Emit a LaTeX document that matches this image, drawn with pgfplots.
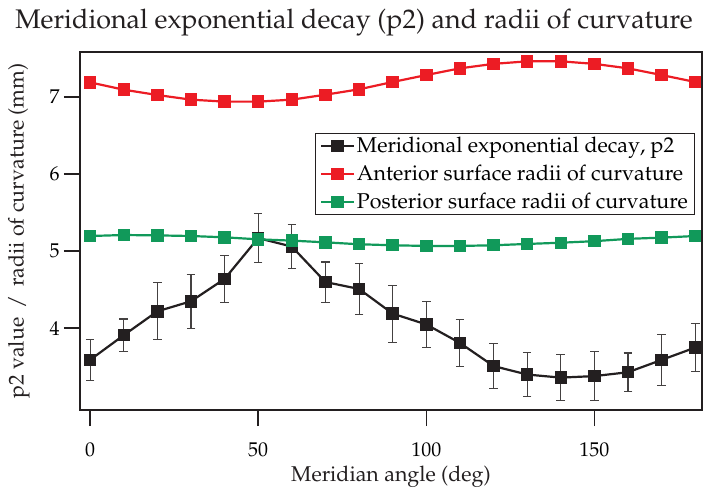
\documentclass[border=0pt]{standalone}
\usepackage[T1]{fontenc}
\usepackage{mathpazo}
\usepackage{pgfplots}
\pgfplotsset{compat=1.18}

\definecolor{antred}{HTML}{EC1C24}
\definecolor{postgreen}{HTML}{11995A}
\definecolor{pblack}{HTML}{231F20}

% angle, p2, error
\pgfplotstableread{
x y e
0 3.59 0.27
10 3.91 0.21
20 4.22 0.37
30 4.35 0.35
40 4.64 0.31
50 5.17 0.32
60 5.06 0.29
70 4.60 0.26
80 4.51 0.33
90 4.19 0.37
100 4.05 0.30
110 3.81 0.30
120 3.51 0.29
130 3.40 0.29
140 3.36 0.30
150 3.38 0.32
160 3.43 0.25
170 3.59 0.33
180 3.75 0.31
}\ptwo

\pgfplotstableread{
x y
0 7.19
10 7.095
20 7.026
30 6.966
40 6.94
50 6.94
60 6.966
70 7.03
80 7.10
90 7.195
100 7.285
110 7.372
120 7.43
130 7.463
140 7.463
150 7.43
160 7.372
170 7.285
180 7.195
}\anterior

\pgfplotstableread{
x y
0 5.197
10 5.21
20 5.205
30 5.197
40 5.18
50 5.154
60 5.137
70 5.115
80 5.09
90 5.077
100 5.068
110 5.068
120 5.077
130 5.094
140 5.11
150 5.13
160 5.16
170 5.176
180 5.197
}\posterior

\begin{document}
\begin{tikzpicture}
\begin{axis}[
  scale only axis,
  width=622bp, height=358bp,
  xmin=-3, xmax=182,
  ymin=2.94, ymax=7.584,
  xtick={0,50,100,150},
  ytick={4,5,6,7},
  axis line style={line width=1.6bp, pblack},
  tick style={line width=1.6bp, pblack},
  tick align=outside,
  tickpos=left,
  major tick length=16bp,
  xticklabel style={font=\fontsize{20}{22}\selectfont, yshift=-13bp},
  yticklabel style={font=\fontsize{20}{22}\selectfont, xshift=-1bp},
  xlabel={Meridian angle (deg)},
  ylabel={p2 value \,/\, radii of curvature (mm)},
  label style={font=\fontsize{21.5}{24}\selectfont, text=pblack},
  xlabel style={yshift=-2bp},
  ylabel style={yshift=13bp},
  title={Meridional exponential decay (p2) and radii of curvature},
  title style={font=\fontsize{27}{30}\selectfont, text=pblack, yshift=6bp, xshift=-37bp},
  legend style={at={(0.989,0.774)}, anchor=north east,
    font=\fontsize{21.5}{24}\selectfont, draw=pblack, line width=0.8bp,
    row sep=7bp, inner xsep=5bp, inner ysep=2bp},
  legend cell align=left,
  legend image code/.code={
    \draw[#1, line width=2.2bp] (0cm,0cm) -- (1.15cm,0cm);
    \draw[#1, mark repeat=2, mark phase=2] plot coordinates {(0cm,0cm) (0.575cm,0cm) (1.15cm,0cm)};
  },
  every axis plot/.append style={line width=2.2bp, mark=square*, mark size=5.1bp},
]
\addplot[color=pblack, mark options={fill=pblack},
  error bars/.cd, y dir=both, y explicit,
  error bar style={line width=1.1bp, color=pblack!85},
  error mark options={rotate=90, mark size=4.3bp, line width=1.1bp, color=pblack!85}]
  table[x=x, y=y, y error=e] {\ptwo};
\addplot[color=antred, mark options={fill=antred}] table[x=x, y=y] {\anterior};
\addplot[color=postgreen, mark options={fill=postgreen}] table[x=x, y=y] {\posterior};
\legend{Meridional exponential decay{,} p2, Anterior surface radii of curvature, Posterior surface radii of curvature}
\coordinate (bl) at (rel axis cs:0,0);
\coordinate (tr) at (rel axis cs:1,1);
\end{axis}
\pgfresetboundingbox
\path ([shift={(-80bp,-80bp)}]bl) rectangle ([shift={(1bp,52bp)}]tr);
\end{tikzpicture}
\end{document}
